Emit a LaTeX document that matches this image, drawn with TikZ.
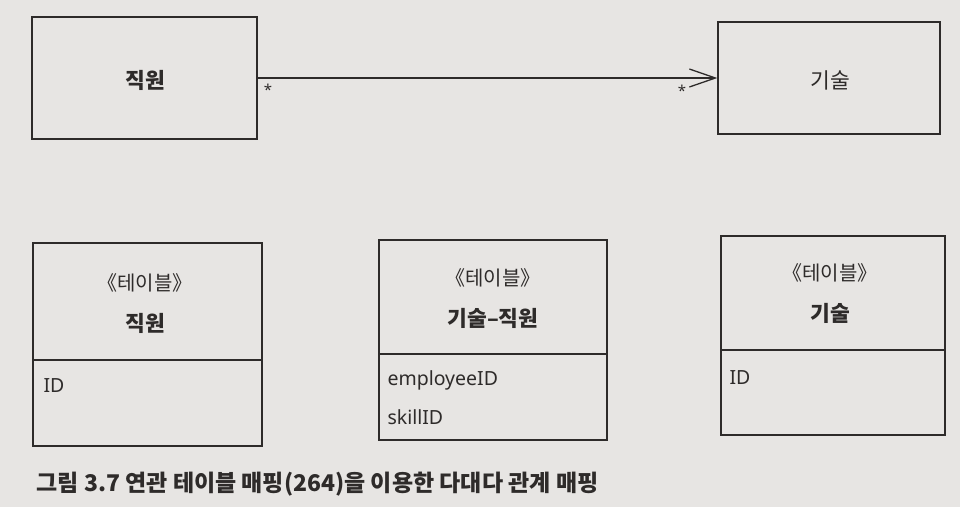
\documentclass[tikz,border=0pt]{standalone}
\usepackage{fontspec}
\setmainfont{Noto Sans}
\newfontfamily\kr{Noto Sans CJK KR}
\usetikzlibrary{arrows.meta}
\definecolor{paper}{HTML}{E7E5E3}
\definecolor{ink}{HTML}{2E2B2A}
\tikzset{
  cls/.style={draw=ink, line width=1.3pt, rectangle, inner sep=0pt},
  nm/.style={font=\kr\bfseries\fontsize{21.5}{24}\selectfont, text=ink},
  st/.style={font=\kr\fontsize{20}{24}\selectfont, text=ink},
  attr/.style={font=\fontsize{19.5}{22}\selectfont, text=ink, anchor=west},
  mult/.style={font=\fontsize{15}{16}\selectfont, text=ink},
  assoc/.style={draw=ink, line width=1.2pt, -{Straight Barb[length=26pt,width=18pt,line width=1.3pt]}},
  divider/.style={draw=ink, line width=1.2pt},
}
\begin{document}
\begin{tikzpicture}[x=1pt,y=-1pt]
\fill[paper] (0,0) rectangle (960,507);
\useasboundingbox (0,0) rectangle (960,507);
% top classes
\node[cls, minimum width=225pt, minimum height=122pt] (emp) at (144.5,78) {};
\node[nm] (empn) at (145,80) {직원};
\node[cls, minimum width=222pt, minimum height=112pt] (skl) at (829,78) {};
\node[nm, font=\kr\fontsize{21.5}{24}\selectfont] (skln) at (830,80) {기술};
\draw[assoc] (emp.east) -- (skl.west);
\node[mult] (m1) at (268,90) {*};
\node[mult] (m2) at (682,91) {*};
% tables
\node[cls, minimum width=229pt, minimum height=203pt] (t1) at (147.5,344.5) {};
\node[st] (t1s) at (145,283) {《테이블》};
\node[nm] (t1n) at (145,323) {직원};
\draw[divider] (t1.west |- 0,360) -- (t1.east |- 0,360);
\node[attr] (t1a) at (40,386) {ID};

\node[cls, minimum width=228pt, minimum height=200pt] (t2) at (493,340) {};
\node[st] (t2s) at (493,278) {《테이블》};
\node[nm] (t2n) at (493,318) {기술–직원};
\draw[divider] (t2.west |- 0,354) -- (t2.east |- 0,354);
\node[attr] (t2a) at (384,380) {employeeID};
\node[attr] (t2b) at (384,417) {skillID};

\node[cls, minimum width=224pt, minimum height=199pt] (t3) at (833,335.5) {};
\node[st] (t3s) at (830,273) {《테이블》};
\node[nm] (t3n) at (830,313) {기술};
\draw[divider] (t3.west |- 0,350) -- (t3.east |- 0,350);
\node[attr] (t3a) at (726,378) {ID};
% caption
\node[font=\kr\bfseries\fontsize{23}{26}\selectfont, text=ink, anchor=west] (cap) at (33,484) {그림 3.7 연관 테이블 매핑(264)을 이용한 다대다 관계 매핑};
\end{tikzpicture}
\end{document}
